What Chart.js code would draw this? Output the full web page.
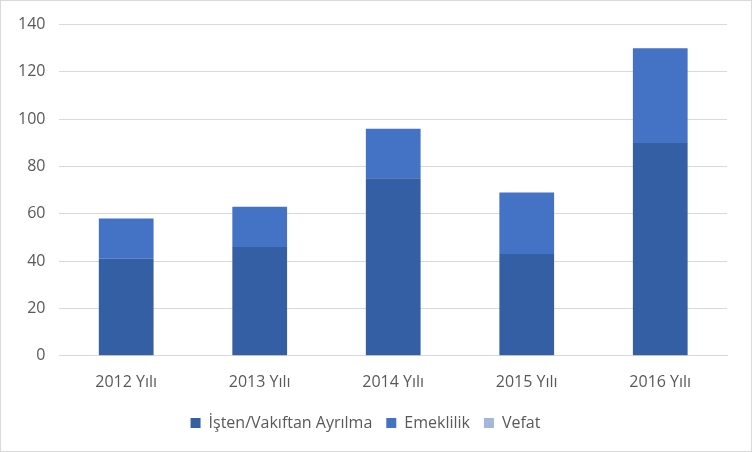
<!DOCTYPE html>
<html><head><meta charset="utf-8">
<script src="https://cdn.jsdelivr.net/npm/chart.js@4/dist/chart.umd.min.js"></script>
<style>
html,body{margin:0;padding:0;background:#fff;}
#wrap{position:absolute;left:0;top:0;width:750px;height:450px;border:1px solid #d9d9d9;background:#fff;}
</style></head>
<body><div id="wrap"><canvas id="c" width="750" height="450"></canvas></div>
<script>
const categories = ["2012 Yılı","2013 Yılı","2014 Yılı","2015 Yılı","2016 Yılı"];
const istenAyrilma = [41,46,75,43,90];
const emeklilik = [17,17,21,26,40];
const vefat = [0,0,0,0,0];
const seriesNames = ["İşten/Vakıftan Ayrılma","Emeklilik","Vefat"];
const font = "'Open Sans', 'Noto Sans', sans-serif";
new Chart(document.getElementById('c'), {
  type: 'bar',
  data: {
    labels: categories,
    datasets: [
      {label: seriesNames[0], data: istenAyrilma, backgroundColor: '#355FA5', categoryPercentage: 0.82, barPercentage: 0.5},
      {label: seriesNames[1], data: emeklilik, backgroundColor: '#4472C4', categoryPercentage: 0.82, barPercentage: 0.5},
      {label: seriesNames[2], data: vefat, backgroundColor: '#A5B5DC', categoryPercentage: 0.82, barPercentage: 0.5}
    ]
  },
  options: {
    responsive: false,
    animation: false,
    layout: {padding: {left: 3, right: 24, top: 0, bottom: 10}},
    plugins: {
      legend: {position: 'bottom', labels: {boxWidth: 10, boxHeight: 10, padding: 14, color: '#595959', font: {family: font, size: 16}}},
      tooltip: {enabled: false}
    },
    scales: {
      x: {stacked: true, grid: {display: false}, border: {color: '#d9d9d9', width: 1},
          ticks: {color: '#595959', padding: 9, font: {family: font, size: 16}}},
      y: {stacked: true, min: 0, max: 140, ticks: {stepSize: 20, color: '#595959', padding: 14, font: {family: font, size: 16}},
          grid: {color: '#d9d9d9', lineWidth: 1, drawTicks: false}, border: {display: false}}
    }
  }
});
</script></body></html>
